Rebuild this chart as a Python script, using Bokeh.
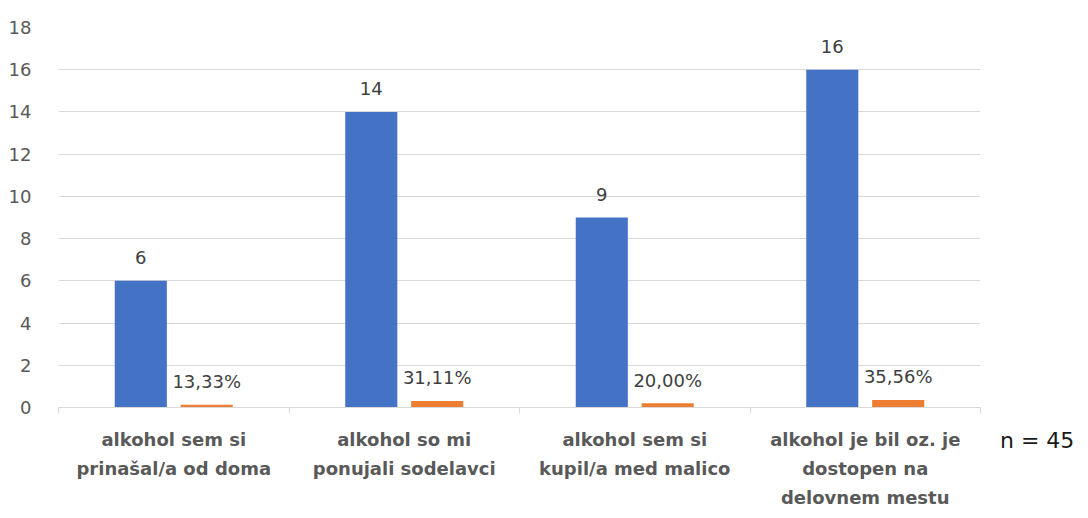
from bokeh.plotting import figure
from bokeh.models import FixedTicker, ColumnDataSource, Range1d, Div
from bokeh.layouts import row
from bokeh.core.properties import value
from bokeh.embed import file_html
from bokeh.resources import INLINE

categories = [
    "alkohol sem si\nprinašal/a od doma",
    "alkohol so mi\nponujali sodelavci",
    "alkohol sem si\nkupil/a med malico",
    "alkohol je bil oz. je\ndostopen na\ndelovnem mestu",
]
counts = [6, 14, 9, 16]
shares = [0.1333, 0.3111, 0.2000, 0.3556]
share_labels = ["13,33%", "31,11%", "20,00%", "35,56%"]
y_ticks = [0, 2, 4, 6, 8, 10, 12, 14, 16, 18]
n_text = "n = 45"

FONT = "DejaVu Sans"
centers = [i + 0.5 for i in range(len(categories))]
blue_x = [c - 0.143 for c in centers]
orange_x = [c + 0.143 for c in centers]
bw = 0.226

p = figure(width=995, height=518, output_backend="svg", toolbar_location=None,
           x_range=Range1d(0, len(categories)), y_range=Range1d(0, 18),
           min_border_left=58, min_border_right=15, min_border_top=27, min_border_bottom=111)
p.outline_line_color = None
p.background_fill_color = "white"
p.border_fill_color = "white"

blue_src = ColumnDataSource(dict(x=blue_x, top=counts, lab=[str(c) for c in counts]))
orange_src = ColumnDataSource(dict(x=orange_x, top=shares, lab=share_labels))

p.vbar(x="x", top="top", bottom=0, width=bw, source=blue_src,
       fill_color="#4472C4", line_color=None)
p.vbar(x="x", top="top", bottom=0, width=bw, source=orange_src,
       fill_color="#ED7D31", line_color=None)

for src in (blue_src, orange_src):
    p.text(x="x", y="top", text="lab", source=src, text_align="center",
           text_baseline="middle", y_offset=-23, text_font=value(FONT),
           text_font_size="18px", text_color="#404040")

# y axis
p.yaxis.ticker = FixedTicker(ticks=y_ticks)
p.yaxis.axis_line_color = None
p.yaxis.major_tick_line_color = None
p.yaxis.minor_tick_line_color = None
p.yaxis.major_label_text_font = FONT
p.yaxis.major_label_text_font_size = "18px"
p.yaxis.major_label_text_color = "#595959"
p.yaxis.major_label_standoff = 21
p.ygrid.ticker = FixedTicker(ticks=y_ticks)
p.ygrid.grid_line_color = "#d9d9d9"
p.ygrid.grid_line_width = 1
p.xgrid.grid_line_color = None

# x axis
p.xaxis.ticker = FixedTicker(ticks=centers, minor_ticks=list(range(len(categories) + 1)))
p.xaxis.major_label_overrides = {c: lab for c, lab in zip(centers, categories)}
p.xaxis.major_tick_line_color = None
p.xaxis.minor_tick_line_color = "#d9d9d9"
p.xaxis.minor_tick_out = 6
p.xaxis.minor_tick_in = 0
p.xaxis.axis_line_color = "#d9d9d9"
p.xaxis.major_label_text_font = FONT
p.xaxis.major_label_text_font_size = "18px"
p.xaxis.major_label_text_font_style = "bold"
p.xaxis.major_label_text_color = "#595959"
p.xaxis.major_label_text_line_height = 1.4
p.xaxis.major_label_standoff = 15

# sample size note to the right of the plot
note = Div(text=f'<div style="margin-top:423px;padding-left:0px;font-family:\'DejaVu Sans\';'
                f'font-size:22px;line-height:26px;color:#1a1a1a;white-space:nowrap;">{n_text}</div>',
           width=93, height=518)

layout = row(p, note)
open("out.html", "w").write(file_html(layout, INLINE))
